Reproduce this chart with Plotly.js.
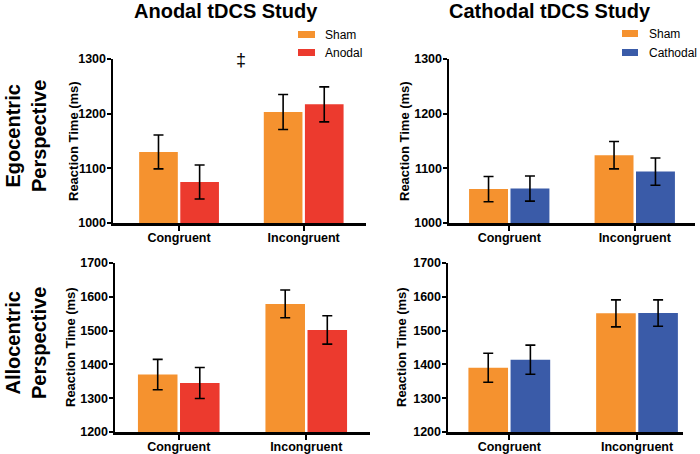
<!DOCTYPE html>
<html>
<head>
<meta charset="utf-8">
<script src="https://cdn.plot.ly/plotly-3.0.1.min.js"></script>
<style>html,body{margin:0;padding:0;background:#fff;}#chart{width:700px;height:454px;}</style>
</head>
<body>
<div id="chart"></div>
<script>
// ---- data ----
const conditions = ['Congruent', 'Incongruent'];

// Anodal tDCS study, egocentric perspective
const anodEgoSham = [1130, 1203];
const anodEgoShamErr = [31, 32];
const anodEgoAnodal = [1075, 1217];
const anodEgoAnodalErr = [31, 32];

// Cathodal tDCS study, egocentric perspective
const cathEgoSham = [1062, 1124];
const cathEgoShamErr = [23, 25];
const cathEgoCathodal = [1063, 1094];
const cathEgoCathodalErr = [23, 25];

// Anodal tDCS study, allocentric perspective
const anodAlloSham = [1370, 1579];
const anodAlloShamErr = [45, 41];
const anodAlloAnodal = [1345, 1502];
const anodAlloAnodalErr = [46, 42];

// Cathodal tDCS study, allocentric perspective
const cathAlloSham = [1390, 1551];
const cathAlloShamErr = [43, 40];
const cathAlloCathodal = [1414, 1552];
const cathAlloCathodalErr = [43, 39];

const egoTicks = [1000, 1100, 1200, 1300];
const alloTicks = [1200, 1300, 1400, 1500, 1600, 1700];

// ---- style ----
const C_SHAM = '#F5922F', C_ANOD = '#EC3A2E', C_CATH = '#3A5BA8';
const FONT = 'Liberation Sans, Arial, sans-serif';

function bar(name, y, err, color, xa, ya) {
  return {
    type: 'bar', name: name, x: conditions, y: y,
    xaxis: xa, yaxis: ya, showlegend: false,
    marker: {color: color, line: {width: 0}},
    error_y: {type: 'data', array: err, visible: true, color: '#000', thickness: 1.6, width: 5}
  };
}

const data = [
  bar('Sham', anodEgoSham, anodEgoShamErr, C_SHAM, 'x', 'y'),
  bar('Anodal', anodEgoAnodal, anodEgoAnodalErr, C_ANOD, 'x', 'y'),
  bar('Sham', cathEgoSham, cathEgoShamErr, C_SHAM, 'x2', 'y2'),
  bar('Cathodal', cathEgoCathodal, cathEgoCathodalErr, C_CATH, 'x2', 'y2'),
  bar('Sham', anodAlloSham, anodAlloShamErr, C_SHAM, 'x3', 'y3'),
  bar('Anodal', anodAlloAnodal, anodAlloAnodalErr, C_ANOD, 'x3', 'y3'),
  bar('Sham', cathAlloSham, cathAlloShamErr, C_SHAM, 'x4', 'y4'),
  bar('Cathodal', cathAlloCathodal, cathAlloCathodalErr, C_CATH, 'x4', 'y4')
];

const W = 700, H = 454;
const px = v => v / W;
const py = v => 1 - v / H;

function xax(d0, d1, r0, r1, anchor) {
  return {
    domain: [px(d0), px(d1)], range: [r0, r1], anchor: anchor,
    type: 'category', showgrid: false, zeroline: false,
    showline: true, linecolor: '#000', linewidth: 2.5,
    ticks: 'outside', ticklen: 5, tickwidth: 2, tickcolor: '#000',
    ticklabelstandoff: -4,
    tickfont: {family: FONT, size: 12.5, color: '#000', weight: 'bold'},
    fixedrange: true
  };
}
function yax(top, bottom, range, ticks, anchor) {
  return {
    domain: [py(bottom), py(top)], range: range, anchor: anchor,
    tickvals: ticks, ticktext: ticks.map(String),
    showgrid: false, zeroline: false,
    showline: true, linecolor: '#000', linewidth: 2.5,
    ticks: 'outside', ticklen: 4, tickwidth: 2, tickcolor: '#000',
    ticklabelstandoff: -2,
    tickfont: {family: FONT, size: 12.5, color: '#000', weight: 'bold'},
    fixedrange: true
  };
}

const titleFont = {family: FONT, size: 20, color: '#000', weight: 'bold'};
const axTitleFont = {family: FONT, size: 13, color: '#000', weight: 'bold'};
const legFont = {family: FONT, size: 12, color: '#000'};

function ann(text, x, y, font, extra) {
  return Object.assign({text: text, x: px(x), y: py(y), xref: 'paper', yref: 'paper',
    showarrow: false, font: font, xanchor: 'center', yanchor: 'middle'}, extra || {});
}

const annotations = [
  ann('Anodal tDCS Study', 226, 11, titleFont),
  ann('Cathodal tDCS Study', 550, 11, titleFont),
  ann('Egocentric<br>Perspective', 26, 136, titleFont, {textangle: -90}),
  ann('Allocentric<br>Perspective', 26, 343, titleFont, {textangle: -90}),
  ann('Reaction Time (ms)', 73, 141, axTitleFont, {textangle: -90}),
  ann('Reaction Time (ms)', 404, 141, axTitleFont, {textangle: -90}),
  ann('Reaction Time (ms)', 70, 347, axTitleFont, {textangle: -90}),
  ann('Reaction Time (ms)', 401, 347, axTitleFont, {textangle: -90}),
  ann('‡', 241, 60, {family: FONT, size: 18, color: '#000'}),
  ann('Sham', 323, 35, legFont, {xanchor: 'left'}),
  ann('Anodal', 323, 53, legFont, {xanchor: 'left'}),
  ann('Sham', 647, 34, legFont, {xanchor: 'left'}),
  ann('Cathodal', 647, 53, legFont, {xanchor: 'left'})
];

function swatch(x0, y0, x1, y1, color) {
  return {type: 'rect', xref: 'paper', yref: 'paper', x0: px(x0), x1: px(x1), y0: py(y1), y1: py(y0),
    fillcolor: color, line: {width: 0}};
}
const shapes = [
  swatch(298, 31, 315, 38, C_SHAM),
  swatch(298, 49, 315, 56, C_ANOD),
  swatch(622, 30, 638, 37, C_SHAM),
  swatch(622, 49, 638, 56, C_CATH)
];

const layout = {
  width: W, height: H,
  margin: {l: 0, r: 0, t: 0, b: 0},
  paper_bgcolor: '#fff', plot_bgcolor: '#fff',
  barmode: 'group', bargap: 0.34, bargroupgap: 0.06,
  showlegend: false,
  font: {family: FONT, color: '#000'},
  xaxis: xax(113, 366, -0.53, 1.5, 'y'),
  yaxis: yax(59, 223, [1000, 1300], egoTicks, 'x'),
  xaxis2: xax(449, 695, -0.48, 1.48, 'y2'),
  yaxis2: yax(59, 223, [1000, 1300], egoTicks, 'x2'),
  xaxis3: xax(115, 370, -0.5, 1.5, 'y3'),
  yaxis3: yax(263, 432, [1200, 1700], alloTicks, 'x3'),
  xaxis4: xax(448, 683, -0.48, 1.36, 'y4'),
  yaxis4: yax(263, 432, [1200, 1700], alloTicks, 'x4'),
  annotations: annotations,
  shapes: shapes
};

Plotly.newPlot('chart', data, layout, {displayModeBar: false, staticPlot: true});
</script>
</body>
</html>
